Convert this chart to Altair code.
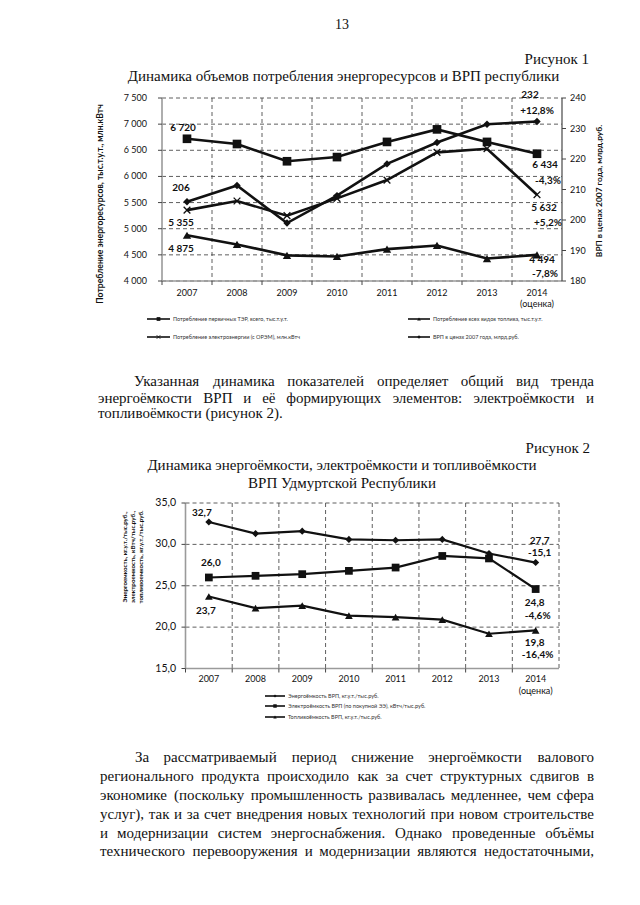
import os
import struct
import altair as alt
import pandas as pd

# ---------------- data ----------------
years = ["2007", "2008", "2009", "2010", "2011", "2012", "2013", "2014"]

# Figure 1 (left axis: thousand t.c.e. / mln kWh; right axis: bln rub)
ter = [6720, 6620, 6290, 6370, 6660, 6900, 6660, 6434]
fuel = [4875, 4700, 4490, 4470, 4610, 4680, 4430, 4500]
elec = [5355, 5530, 5250, 5580, 5930, 6460, 6530, 5650]
vrp = [206, 211.3, 199, 208, 218.4, 225.4, 231.4, 232.3]

# Figure 2
energy_int = [32.7, 31.3, 31.6, 30.6, 30.5, 30.6, 28.9, 27.8]
electro_int = [26.0, 26.2, 26.4, 26.8, 27.2, 28.6, 28.3, 24.6]
fuel_int = [23.7, 22.3, 22.6, 21.4, 21.2, 20.9, 19.2, 19.6]

fig1_left_ticks = [4000, 4500, 5000, 5500, 6000, 6500, 7000, 7500]
fig1_left_labels = ["4 000", "4 500", "5 000", "5 500", "6 000", "6 500", "7 000", "7 500"]
fig1_right_ticks = [180, 190, 200, 210, 220, 230, 240]
fig1_right_labels = ["180", "190", "200", "210", "220", "230", "240"]
fig2_ticks = [15, 20, 25, 30, 35]
fig2_labels = ["15,0", "20,0", "25,0", "30,0", "35,0"]
estimate_note = "(оценка)"

page_number = "13"
fig1_caption = "Рисунок 1"
fig1_title = "Динамика объемов потребления энергоресурсов и ВРП республики"
fig1_left_title = "Потребление энергоресурсов, тыс.т.у.т., млн.кВтч"
fig1_right_title = "ВРП в ценах 2007 года, млрд.руб."
fig1_legend = [
    "Потребление первичных ТЭР, всего, тыс.т.у.т.",
    "Потребление всех видов топлива, тыс.т.у.т.",
    "Потребление электроэнергии (с ОРЭМ), млн.кВтч",
    "ВРП в ценах 2007 года, млрд.руб.",
]
para1 = [
    "Указанная динамика показателей определяет общий вид тренда",
    "энергоёмкости ВРП и её формирующих элементов: электроёмкости и",
    "топливоёмкости (рисунок 2).",
]
fig2_caption = "Рисунок 2"
fig2_title = ["Динамика энергоёмкости, электроёмкости и топливоёмкости",
              "ВРП Удмуртской Республики"]
fig2_y_title = ["Энергоемкость, кг.у.т./тыс.руб.,",
                "электроемкость, кВтч/тыс.руб.,",
                "топливоемкость, кг.у.т./тыс.руб."]
fig2_legend = [
    "Энергоёмкость ВРП, кг.у.т./тыс.руб.",
    "Электроёмкость ВРП (по покупной ЭЭ), кВтч/тыс.руб.",
    "Топливоёмкость ВРП, кг.у.т./тыс.руб.",
]
para2 = [
    "За рассматриваемый период снижение энергоёмкости валового",
    "регионального продукта происходило как за счет структурных сдвигов в",
    "экономике (поскольку промышленность развивалась медленнее, чем сфера",
    "услуг), так и за счет внедрения новых технологий при новом строительстве",
    "и модернизации систем энергоснабжения. Однако проведенные объёмы",
    "технического перевооружения и модернизации являются недостаточными,",
]

# ---------------- layout / style ----------------
SERIF = "Liberation Serif"
SANS = "Lato"
INK = "#111111"
GRID = "#4d4d4d"
AXIS = "#9a9a9a"
PAGE_W, PAGE_H = 624, 889


def P(v):
    """page pixel -> chart pixel (the page has an 8px margin)"""
    return v - 8


# figure frames in page pixels
F1 = dict(x0=162, x1=562, y0=98, y1=281)
F2 = dict(x0=185.5, x1=559, y0=503, y1=668.5)


# ---- text width measurement (Liberation Serif metrics, fallback table) ----
def _load_metrics(filename):
    path = None
    for root in ["/usr/share/fonts", "/usr/local/share/fonts",
                 os.path.expanduser("~/.fonts"), os.path.expanduser("~/.local/share/fonts")]:
        if not os.path.isdir(root):
            continue
        for dp, _, files in os.walk(root):
            for f in files:
                if f.lower() == filename:
                    path = os.path.join(dp, f)
                    break
            if path:
                break
        if path:
            break
    if not path:
        return None
    try:
        data = open(path, "rb").read()
        ntab = struct.unpack(">H", data[4:6])[0]
        tabs = {}
        for i in range(ntab):
            tag, _, off, ln = struct.unpack(">4sIII", data[12 + 16 * i:28 + 16 * i])
            tabs[tag.decode("latin1")] = off
        upem = struct.unpack(">H", data[tabs["head"] + 18:tabs["head"] + 20])[0]
        nh = struct.unpack(">H", data[tabs["hhea"] + 34:tabs["hhea"] + 36])[0]
        ho = tabs["hmtx"]
        adv = [struct.unpack(">H", data[ho + 4 * i:ho + 4 * i + 2])[0] for i in range(nh)]
        co = tabs["cmap"]
        nsub = struct.unpack(">H", data[co + 2:co + 4])[0]
        sub = None
        for i in range(nsub):
            pid, eid, so = struct.unpack(">HHI", data[co + 4 + 8 * i:co + 12 + 8 * i])
            fmt = struct.unpack(">H", data[co + so:co + so + 2])[0]
            if fmt == 4 and (pid, eid) in [(3, 1), (0, 3), (0, 4), (0, 1)]:
                sub = co + so
                break
        if sub is None:
            return None
        seg2 = struct.unpack(">H", data[sub + 6:sub + 8])[0]
        nseg = seg2 // 2
        ends = struct.unpack(">%dH" % nseg, data[sub + 14:sub + 14 + seg2])
        starts = struct.unpack(">%dH" % nseg, data[sub + 16 + seg2:sub + 16 + 2 * seg2])
        deltas = struct.unpack(">%dh" % nseg, data[sub + 16 + 2 * seg2:sub + 16 + 3 * seg2])
        rpos = sub + 16 + 3 * seg2
        roffs = struct.unpack(">%dH" % nseg, data[rpos:rpos + seg2])

        def gid(c):
            for i in range(nseg):
                if starts[i] <= c <= ends[i]:
                    if roffs[i] == 0:
                        return (c + deltas[i]) & 0xFFFF
                    a = rpos + 2 * i + roffs[i] + 2 * (c - starts[i])
                    g = struct.unpack(">H", data[a:a + 2])[0]
                    return (g + deltas[i]) & 0xFFFF if g else 0
            return 0

        cache = {}

        def w(ch):
            if ch not in cache:
                g = gid(ord(ch))
                cache[ch] = adv[min(g, nh - 1)] / upem
            return cache[ch]
        return w
    except Exception:
        return None


_serif_w = _load_metrics("liberationserif-regular.ttf")
CYR = "абвгдеёжзийклмнопрстуфхцчшщъыьэюя"
CYR_W = [444, 508, 472, 410, 509, 444, 444, 691, 395, 535, 535, 486, 499, 633, 535,
         500, 533, 500, 444, 437, 500, 648, 500, 535, 503, 770, 770, 517, 672, 456,
         441, 750, 487]
CW = {c: w / 1000 for c, w in zip(CYR, CYR_W)}
CW.update({" ": .25, ",": .25, ".": .25, "(": .333, ")": .333, ":": .278, "-": .333})


def em_width(s):
    if _serif_w:
        return sum(_serif_w(ch) for ch in s)
    tot = 0
    for ch in s:
        if ch in CW:
            tot += CW[ch]
        elif ch.isdigit():
            tot += .5
        elif ch.isupper():
            tot += .68
        else:
            tot += .5
    return tot


BODY = max(14.0, min(17.0, 433.0 / em_width(fig1_title)))


def empty():
    return alt.Chart(alt.Data(values=[{}]))


def txt(s, px, py, size, align="left", font=SERIF, weight="normal", color=INK, angle=0):
    return empty().mark_text(text=s, font=font, fontSize=size, align=align,
                             baseline="middle", fontWeight=weight, color=color,
                             angle=angle).encode(x=alt.value(P(px)), y=alt.value(P(py)))


def justify(line, left, right, py, size):
    words = line.split()
    widths = [em_width(w) * size for w in words]
    gap = (right - left - sum(widths)) / (len(words) - 1)
    out, x = [], left
    for i, (w, wd) in enumerate(zip(words, widths)):
        if i == len(words) - 1:
            out.append(txt(w, right, py, size, "right"))
        else:
            out.append(txt(w, x, py, size, "left"))
        x += wd + gap
    return out


def seg(x0, y0, x1, y1, color, width, dash=None):
    kw = dict(color=color, strokeWidth=width)
    if dash:
        kw["strokeDash"] = dash
    return empty().mark_rule(**kw).encode(x=alt.value(P(x0)), y=alt.value(P(y0)),
                                          x2=alt.value(P(x1)), y2=alt.value(P(y1)))


def legend_item(x0, x1, y, shape, size, filled, label, fs):
    pt = empty().mark_point(shape=shape, size=size, filled=filled, color=INK,
                            opacity=1, strokeWidth=0.8).encode(
        x=alt.value(P((x0 + x1) / 2)), y=alt.value(P(y)))
    tx = txt(label, x1 + 3, y, fs, "left", SANS, "normal", "#333333")
    return [seg(x0, y, x1, y, INK, 1.6), pt, tx]


CROSS = "M-1,-1L1,1M-1,1L1,-1"


def xscale(F):
    return alt.Scale(domain=years, range=[P(F["x0"]), P(F["x1"])],
                     paddingInner=0, paddingOuter=0)


def yscale(F, dom):
    return alt.Scale(domain=dom, range=[P(F["y1"]), P(F["y0"])], nice=False, zero=False)


def X(xs, band=0.5):
    return alt.X("year:N", bandPosition=band, scale=xs, axis=None)


def Y(ys):
    return alt.Y("v:Q", scale=ys, axis=None)


def series(values, xs, ys, shape, size, filled, lw):
    df = pd.DataFrame({"year": years, "v": values})
    base = alt.Chart(df).encode(x=X(xs), y=Y(ys))
    return [base.mark_line(color=INK, strokeWidth=lw),
            base.mark_point(shape=shape, size=size, filled=filled, color=INK, opacity=1,
                            strokeWidth=1.3)]


def ann(values, idx, text, dx, dy, xs, ys, fs=10):
    df = pd.DataFrame({"year": [years[idx]], "v": [values[idx]], "t": [text]})
    return alt.Chart(df).mark_text(
        dx=dx, dy=dy, fontSize=fs, fontWeight="bold", font=SANS, color=INK,
        align="center", baseline="middle").encode(x=X(xs), y=Y(ys), text="t:N")


def frame_layers(F, xs, ys, ticks, labels, lab_x, lab_fs, tick_len, xlab_y, note_y,
                 xlab_fs, right_edge_dashed):
    out = []
    # horizontal dashed grid at tick values
    gdf = pd.DataFrame({"v": ticks})
    out.append(alt.Chart(gdf).mark_rule(color=GRID, strokeWidth=0.9, strokeDash=[4, 3])
               .encode(y=Y(ys), x=alt.value(P(F["x0"])), x2=alt.value(P(F["x1"]))))
    # vertical dashed grid at band boundaries
    bdf = pd.DataFrame({"year": years[1:]})
    out.append(alt.Chart(bdf).mark_rule(color=GRID, strokeWidth=0.9, strokeDash=[4, 3])
               .encode(x=X(xs, 0), y=alt.value(P(F["y0"])), y2=alt.value(P(F["y1"]))))
    if right_edge_dashed:
        edf = pd.DataFrame({"year": years[-1:]})
        out.append(alt.Chart(edf).mark_rule(color=GRID, strokeWidth=0.9, strokeDash=[4, 3])
                   .encode(x=X(xs, 1), y=alt.value(P(F["y0"])), y2=alt.value(P(F["y1"]))))
    # x axis: domain, ticks at boundaries, labels
    out.append(seg(F["x0"], F["y1"], F["x1"], F["y1"], AXIS, 1.6))
    tdf = pd.DataFrame({"year": years})
    out.append(alt.Chart(tdf).mark_rule(color="#444444", strokeWidth=1)
               .encode(x=X(xs, 0), y=alt.value(P(F["y1"])),
                       y2=alt.value(P(F["y1"] + tick_len))))
    out.append(alt.Chart(tdf).mark_text(font=SANS, fontSize=xlab_fs, color=INK,
                                        baseline="middle")
               .encode(x=X(xs), y=alt.value(P(xlab_y)), text="year:N"))
    ndf = pd.DataFrame({"year": years[-1:], "t": [estimate_note]})
    out.append(alt.Chart(ndf).mark_text(font=SANS, fontSize=xlab_fs, color=INK,
                                        baseline="middle")
               .encode(x=X(xs), y=alt.value(P(note_y)), text="t:N"))
    # left y axis: domain, ticks, labels
    out.append(seg(F["x0"], F["y0"], F["x0"], F["y1"], AXIS, 1.6))
    ldf = pd.DataFrame({"v": ticks, "t": labels})
    out.append(alt.Chart(ldf).mark_rule(color="#444444", strokeWidth=1)
               .encode(y=Y(ys), x=alt.value(P(F["x0"] - 4)), x2=alt.value(P(F["x0"]))))
    out.append(alt.Chart(ldf).mark_text(font=SANS, fontSize=lab_fs, color=INK,
                                        align="right", baseline="middle")
               .encode(y=Y(ys), x=alt.value(P(lab_x)), text="t:N"))
    return out


# ---------------- figure 1 ----------------
xs1 = xscale(F1)
ys1 = yscale(F1, [4000, 7500])
yr1 = yscale(F1, [180, 240])

fig1 = frame_layers(F1, xs1, ys1, fig1_left_ticks, fig1_left_labels, 147, 9, 4,
                    293, 304, 9, False)
# right axis
fig1.append(seg(F1["x1"], F1["y0"], F1["x1"], F1["y1"], "#555555", 1.3))
rdf = pd.DataFrame({"v": fig1_right_ticks, "t": fig1_right_labels})
fig1.append(alt.Chart(rdf).mark_rule(color="#444444", strokeWidth=1)
            .encode(y=Y(yr1), x=alt.value(P(F1["x1"])), x2=alt.value(P(F1["x1"] + 4))))
fig1.append(alt.Chart(rdf).mark_text(font=SANS, fontSize=9, color=INK, align="left",
                                     baseline="middle")
            .encode(y=Y(yr1), x=alt.value(P(570)), text="t:N"))
fig1.append(txt(fig1_left_title, 100, 204, 8.6, "center", SANS, "bold", INK, 270))
fig1.append(txt(fig1_right_title, 599, 191, 8.4, "center", SANS, "bold", INK, 270))

fig1 += series(ter, xs1, ys1, "square", 75, True, 2.6)
fig1 += series(fuel, xs1, ys1, "triangle-up", 70, True, 2.6)
fig1 += series(elec, xs1, ys1, CROSS, 45, False, 2.6)
fig1 += series(vrp, xs1, yr1, "diamond", 55, True, 2.6)
fig1 += [ann(ter, 0, "6 720", -4, -11, xs1, ys1),
         ann(ter, 7, "6 434", 8, 11, xs1, ys1),
         ann(ter, 7, "-4,3%", 11, 27, xs1, ys1),
         ann(elec, 0, "5 355", -6, 13, xs1, ys1),
         ann(elec, 7, "5 632", 7, 13, xs1, ys1),
         ann(elec, 7, "+5,2%", 11, 28, xs1, ys1),
         ann(fuel, 0, "4 875", -6, 14, xs1, ys1),
         ann(fuel, 7, "4 494", 5, 5, xs1, ys1),
         ann(fuel, 7, "-7,8%", 8, 19, xs1, ys1),
         ann(vrp, 0, "206", -6, -14, xs1, yr1),
         ann(vrp, 7, "232", -7, -26, xs1, yr1),
         ann(vrp, 7, "+12,8%", 0, -10, xs1, yr1)]

fig1 += legend_item(147, 170, 319, "square", 14, True, fig1_legend[0], 5.5)
fig1 += legend_item(408, 430, 319, "triangle-up", 14, True, fig1_legend[1], 5.5)
fig1 += legend_item(147, 170, 337, CROSS, 14, False, fig1_legend[2], 5.5)
fig1 += legend_item(408, 430, 337, "diamond", 12, True, fig1_legend[3], 5.5)

# ---------------- figure 2 ----------------
xs2 = xscale(F2)
ys2 = yscale(F2, [15, 35])
fig2 = frame_layers(F2, xs2, ys2, fig2_ticks, fig2_labels, 176, 10.5, 4,
                    679, 691, 9, True)
for i, (line, lx) in enumerate(zip(fig2_y_title, [125, 133, 141])):
    fig2.append(txt(line, lx, 557, 6.2, "center", SANS, "bold", INK, 270))

fig2 += series(energy_int, xs2, ys2, "diamond", 50, True, 2.2)
fig2 += series(electro_int, xs2, ys2, "square", 60, True, 2.2)
fig2 += series(fuel_int, xs2, ys2, "triangle-up", 60, True, 2.2)
fig2 += [ann(energy_int, 0, "32,7", -7, -9, xs2, ys2),
         ann(electro_int, 0, "26,0", 2, -14, xs2, ys2),
         ann(fuel_int, 0, "23,7", -3, 14, xs2, ys2),
         ann(energy_int, 7, "27,7", 4, -22, xs2, ys2),
         ann(energy_int, 7, "-15,1", 4, -10, xs2, ys2),
         ann(electro_int, 7, "24,8", -1, 14, xs2, ys2),
         ann(electro_int, 7, "-4,6%", 2, 27, xs2, ys2),
         ann(fuel_int, 7, "19,8", -1, 12.5, xs2, ys2),
         ann(fuel_int, 7, "-16,4%", 2, 25, xs2, ys2)]

fig2 += legend_item(265, 285, 696, "diamond", 10, True, fig2_legend[0], 5.5)
fig2 += legend_item(265, 285, 706, "square", 12, True, fig2_legend[1], 5.5)
fig2 += legend_item(265, 285, 717, "triangle-up", 12, True, fig2_legend[2], 5.5)

# ---------------- page text ----------------
texts = [txt(page_number, 342, 25, 14, "center"),
         txt(fig1_caption, 589, 59, BODY, "right"),
         txt(fig1_title, 343.5, 76, BODY, "center")]
texts += justify(para1[0], 134, 594, 381, BODY)
texts += justify(para1[1], 98, 594, 397.5, BODY)
texts += [txt(para1[2], 98, 413, BODY, "left")]
texts += [txt(fig2_caption, 590, 448, BODY, "right"),
          txt(fig2_title[0], 342, 465, BODY, "center"),
          txt(fig2_title[1], 342, 482.5, BODY, "center")]
p2_y = [757, 776, 795, 814, 832.5, 851]
for i, line in enumerate(para2):
    texts += justify(line, 135 if i == 0 else 100, 594, p2_y[i], BODY)

chart = alt.layer(*fig1, *fig2, *texts).resolve_scale(
    x="independent", y="independent"
).properties(
    width=PAGE_W, height=PAGE_H, padding=0,
    autosize=alt.AutoSizeParams(type="none"),
).configure_view(strokeWidth=0)

chart.save("out.html", embed_options={"renderer": "svg", "actions": False})
